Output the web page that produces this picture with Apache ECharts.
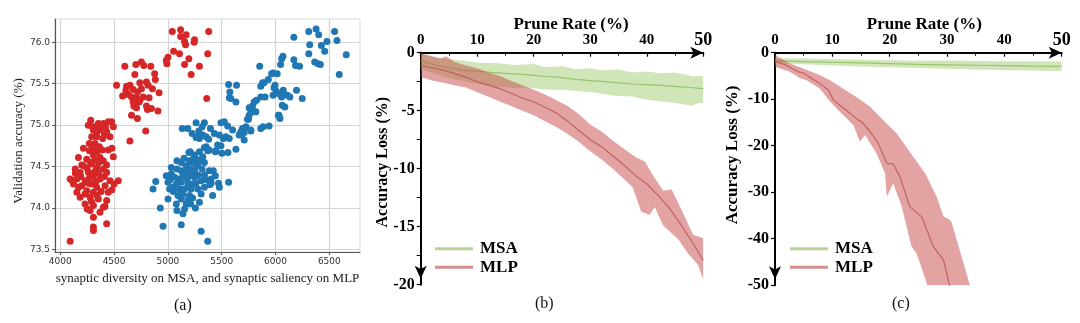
<!DOCTYPE html>
<html>
<head>
<meta charset="utf-8">
<script src="https://cdn.jsdelivr.net/npm/echarts@6/dist/echarts.min.js"></script>
<style>
  html, body { margin: 0; padding: 0; background: #fff; }
  #chart { width: 1080px; height: 323px; }
</style>
</head>
<body>
<div id="chart"></div>
<script>
// ---- (a) accuracy vs. synaptic diversity / saliency ----
const msaDiversity = [
  [5041,76.13],[5118,76.15],[5170,76.09],[5118,76.07],[5379,76.13],[5247,76.03],[5155,76.01],[5164,75.97],[5244,76.0],[5053,75.89],
  [5108,75.86],[5370,75.86],[5001,75.82],[4985,75.78],[4991,75.74],[5155,75.73],[5195,75.80],[5293,75.71],[5216,75.61],[5361,75.32],
  [4600,75.71],[4702,75.73],[4754,75.76],[4776,75.72],[4841,75.71],[4693,75.61],[4877,75.62],[4883,75.55],[4523,75.48],[4616,75.47],
  [4647,75.48],[4739,75.51],[4801,75.52],[4816,75.48],[4579,75.35],[4610,75.42],[4677,75.43],[4717,75.40],[4754,75.44],[4856,75.44],
  [4918,75.39],[4662,75.34],[4708,75.33],[4770,75.34],[4825,75.33],[4677,75.28],[4733,75.28],[4684,75.23],[4708,75.21],[4801,75.23],
  [4810,75.19],[4847,75.20],[4908,75.17],[4662,75.12],[4717,75.08],[4794,74.93],[4647,74.81],[4631,75.37],[4740,75.30],[4690,75.26],
  [4283,75.06],[4323,74.98],[4354,75.02],[4400,75.02],[4446,75.04],[4477,75.04],[4493,74.98],[4308,74.94],[4369,74.94],[4431,74.92],
  [4462,74.86],[4292,74.86],[4339,74.86],[4394,74.84],[4323,74.78],[4215,74.72],[4363,74.74],[4446,74.70],[4271,74.69],[4308,74.64],
  [4493,74.62],[4169,74.61],[4246,74.59],[4369,74.61],[4400,74.57],[4139,74.47],[4215,74.51],[4292,74.53],[4339,74.49],[4400,74.47],
  [4431,74.43],[4185,74.43],[4262,74.43],[4308,74.39],[4092,74.35],[4154,74.35],[4231,74.33],[4369,74.35],[4462,74.33],[4539,74.33],
  [4123,74.29],[4200,74.27],[4292,74.29],[4339,74.25],[4416,74.27],[4154,74.19],[4246,74.21],[4308,74.19],[4446,74.19],[4185,74.13],
  [4277,74.13],[4354,74.11],[4431,74.09],[4231,74.05],[4308,74.03],[4400,74.01],[4277,73.97],[4369,73.95],[4308,73.89],[4431,73.81],
  [4308,73.77],[4308,73.73],[4092,73.60],[4260,75.0],[4380,74.98],[4420,74.97],[4300,74.72],[4340,74.68],[4280,74.55],[4320,74.58],
  [4250,74.48],[4355,74.42],[4190,74.38],[4270,74.36],[4330,74.32],[4410,74.38],[4500,74.29],[4110,74.33],[4170,74.25],[4230,74.17],
  [4380,74.20],[4260,74.30],[4320,74.44],[4140,74.42],[4480,74.22],[4415,74.02],[4250,73.99],[4290,74.08],[4340,74.15],[4200,74.52],
  [4360,74.55],[4430,74.52],[4480,74.72],[4300,74.98],[4340,74.92],[4410,74.88],[4270,74.78],[4390,74.70]
];
const mlpSaliency = [
  [6170,76.06],[6309,76.13],[6377,76.16],[6401,76.09],[6549,76.13],[6318,75.97],[6426,75.96],[6478,76.01],[6571,76.02],[6457,75.89],
  [6657,75.85],[6309,75.86],[6364,75.76],[6395,75.74],[6417,75.73],[6592,75.61],[6069,75.83],[6057,75.80],[6047,75.73],[6170,75.79],
  [6186,75.72],[6223,75.71],[5853,75.71],[5977,75.63],[6016,75.62],[5933,75.55],[5893,75.51],[5863,75.47],[5995,75.48],[6007,75.41],
  [6032,75.38],[6063,75.36],[6109,75.36],[6195,75.42],[6248,75.32],[5903,75.34],[5863,75.34],[6063,75.24],[6087,75.22],[6032,75.12],
  [6041,75.08],[5564,75.49],[5638,75.48],[5576,75.40],[5585,75.32],[5632,75.28],[5801,75.28],[5755,75.21],[5770,75.18],[5801,75.16],
  [5739,75.07],[5693,74.96],[5678,74.92],[5662,74.88],[5884,74.98],[5863,74.96],[5770,74.94],[5632,74.71],[5493,75.03],[5524,75.04],
  [5555,74.99],[5601,74.94],[5339,75.03],[5395,74.96],[5432,74.90],[5478,74.88],[5515,74.84],[5539,74.86],[5462,74.76],[5493,74.75],
  [5339,74.73],[5370,74.69],[5447,74.69],[5502,74.66],[5293,74.90],[5293,74.84],[5986,75.45],[5964,75.62],[5977,75.36],[5571,75.33],
  [5780,75.20],[5817,75.16],[5749,75.07],[5725,74.98],[5709,74.91],[5687,74.88],[5709,74.82],[5262,75.03],[5318,74.98],[5287,74.93],
  [5324,74.88],[5355,74.86],[5379,74.83],[5355,74.74],[5385,74.70],[5133,74.96],[5185,74.96],[5225,74.90],[5262,74.85],[5207,74.68],
  [5570,74.84],[5558,74.67],[5441,74.68],[6133,75.34],[6057,75.34],[5940,74.99],[6072,75.42],[6026,75.12],[5880,75.51],[5786,75.23],
  [5823,75.30],[5755,75.12],[5771,74.93],
  [5195,74.67],[5247,74.64],[5293,74.68],[5324,74.62],[5262,74.59],[5309,74.59],[5225,74.55],[5278,74.53],[5339,74.55],[5084,74.57],
  [5124,74.55],[5170,74.51],[5032,74.49],[5084,74.47],[5124,74.45],[5201,74.47],[5247,74.45],[5318,74.47],[5385,74.45],[5422,74.45],
  [4985,74.39],[5032,74.41],[5062,74.37],[5140,74.39],[5201,74.39],[5247,74.37],[5309,74.33],[5355,74.34],[5401,74.35],[5441,74.39],
  [4887,74.32],[4862,74.23],[5001,74.31],[5078,74.29],[5124,74.31],[5186,74.29],[5232,74.29],[5016,74.23],[5047,74.25],[5108,74.23],
  [5155,74.23],[5216,74.23],[5278,74.23],[5339,74.25],[5401,74.30],[5478,74.25],[5564,74.31],[5140,74.17],[5201,74.15],[5093,74.15],
  [5309,74.17],[5416,74.15],[5001,74.11],[5124,74.11],[5186,74.10],[5078,74.05],[5170,74.05],[5256,74.00],[5155,73.99],[5293,74.07],
  [4930,74.00],[5084,73.97],[5140,73.93],[4955,73.78],[5124,73.80],[5309,73.72],[5370,73.60],
  [5150,74.60],[5230,74.42],[5180,74.35],[5260,74.30],[5100,74.35],[5050,74.20],[5230,74.12],[5160,74.44],[5280,74.40],[5120,74.20],
  [5210,74.05],[5260,74.50],[5020,74.34],[5340,74.40],[5200,74.57],[5240,74.60],[5470,74.30],[5390,74.28]
];
const synapticTicks = [4000, 4500, 5000, 5500, 6000, 6500];
const accuracyTicks = [73.5, 74.0, 74.5, 75.0, 75.5, 76.0];

// ---- (b) accuracy loss vs. prune rate ----
const msaMeanXB = [0, 2.5, 5, 7.5, 10, 12.5, 15, 17.5, 20, 22.5, 25, 27.5, 30, 32.5, 35, 37.5, 40, 42.5, 45, 47.5, 50];
const msaMeanB  = [-0.7, -1.05, -1.3, -1.5, -1.6, -1.7, -1.78, -1.85, -1.95, -2.05, -2.15, -2.3, -2.4, -2.5, -2.6, -2.7, -2.75, -2.82, -2.9, -3.0, -3.1];
const msaHighXB = [0, 2, 4.9, 7.8, 10.2, 13.7, 16.7, 20, 22, 25, 27.3, 30, 32, 35, 37.3, 40, 42.6, 45, 48, 50];
const msaHighB  = [-0.1, -0.35, -0.57, -0.69, -0.86, -0.91, -1.06, -0.97, -1.26, -1.14, -1.43, -1.34, -1.54, -1.43, -1.71, -1.63, -1.77, -1.71, -2.0, -2.0];
const msaLowXB  = [0, 5, 10, 13.7, 16.7, 20, 22.6, 25, 28.5, 30.8, 34.4, 37.3, 40, 42.6, 45, 48, 49.1, 50];
const msaLowB   = [-1.4, -2.2, -2.7, -2.91, -3.06, -3.06, -3.2, -3.2, -3.34, -3.43, -3.71, -3.77, -4.06, -4.2, -4.34, -4.57, -4.34, -4.34];

const mlpMeanXB = [0, 2, 4, 6, 8, 10, 12, 14, 16, 18, 20, 22, 24, 26, 28, 30, 32, 34, 36, 38, 40, 42, 44, 46, 48, 50];
const mlpMeanB  = [-1.1, -1.3, -1.5, -1.8, -2.1, -2.5, -2.8, -3.1, -3.5, -3.9, -4.25, -4.7, -5.2, -5.9, -6.7, -7.5, -8.1, -8.9, -9.7, -10.6, -11.3, -12.3, -13.4, -14.8, -16.3, -17.9];
const mlpHighXB = [0, 2, 3.5, 4.5, 6, 8, 10, 12, 14, 16, 18, 20, 22, 24, 26, 28, 30, 32, 34, 36, 38, 39.7, 41, 42.9, 44.4, 46.2, 48.2, 50];
const mlpHighB  = [-0.05, -0.3, -0.5, -0.3, -0.8, -1.1, -1.35, -1.7, -2.0, -2.45, -2.8, -3.2, -3.6, -4.1, -4.6, -5.3, -6.2, -6.8, -7.6, -8.3, -9.0, -9.4, -10.5, -11.9, -11.8, -13.6, -15.7, -16.0];
const mlpLowXB  = [0, 2, 4, 6, 8, 10, 12, 14, 16, 18, 20, 22, 24, 26, 28, 30, 32, 34, 36, 37.5, 39, 40.5, 41.4, 42.9, 45.6, 47.3, 49.1, 50];
const mlpLowB   = [-2.1, -2.4, -2.6, -2.8, -3.0, -3.4, -3.8, -4.2, -4.6, -5.0, -5.4, -5.9, -6.4, -7.0, -7.7, -8.5, -9.2, -10.0, -10.9, -11.6, -13.7, -14.0, -13.3, -14.9, -16.1, -17.3, -18.3, -19.6];

// ---- (c) accuracy loss vs. prune rate ----
const msaMeanXC = [0, 5, 10, 15, 20, 25, 30, 35, 40, 45, 50];
const msaMeanC  = [-1.75, -1.9, -2.05, -2.2, -2.35, -2.5, -2.6, -2.7, -2.8, -2.9, -2.95];
const msaHighXC = [0, 5, 10, 15, 20, 25, 30, 35, 40, 45, 50];
const msaHighC  = [-1.2, -1.25, -1.4, -1.5, -1.65, -1.75, -1.7, -1.8, -1.85, -1.85, -1.9];
const msaLowXC  = [0, 5, 10, 15, 20, 25, 30, 35, 40, 45, 50];
const msaLowC   = [-2.3, -2.5, -2.75, -2.95, -3.15, -3.3, -3.45, -3.6, -3.75, -3.85, -4.0];

const mlpMeanXC = [0, 2, 4, 5, 6, 7.8, 9.3, 10.2, 11.3, 13.1, 14.5, 15.1, 16.6, 18, 19.5, 20.6, 21.8, 23.5, 25.6, 27.6, 29.4, 30.5, 32];
const mlpMeanC  = [-1.9, -2.7, -4.1, -4.4, -5.2, -6.6, -8.0, -10.2, -11.3, -13.0, -14.5, -14.8, -17.0, -19.5, -23.8, -23.9, -26.7, -33.1, -35.3, -41.7, -44.6, -50.3, -58];
const mlpHighXC = [0, 2.6, 4.9, 7.8, 9.6, 12, 14.5, 16.6, 18.9, 21.2, 24.1, 26.2, 28.2, 29.4, 30.4, 30.8, 31.7, 33.4, 34.2];
const mlpHighC  = [-0.5, -2.3, -3.4, -4.8, -5.9, -7.8, -9.8, -11.6, -14.5, -17.3, -22.4, -26.0, -31.0, -35.3, -35.8, -36.5, -40.3, -47.5, -51];
const mlpLowXC  = [0, 2.6, 4.4, 5.5, 7.8, 9.6, 11.3, 13.7, 14.8, 15.7, 17.7, 19.2, 19.5, 20.6, 22.1, 23.8, 24.7, 25.9, 26.7, 28];
const mlpLowC   = [-3.0, -4.1, -5.5, -5.9, -7.7, -10.5, -12.7, -15.6, -19.1, -17.7, -21.6, -26.0, -31.0, -28.1, -33.1, -41.7, -43.2, -47.5, -50.5, -56];

const pruneTicksMax = 50;

// ---- styling ----
const SERIF = '"Liberation Serif", "DejaVu Serif", serif';
const SANS = '"DejaVu Sans", sans-serif';
const GREEN_BAND = 'rgba(150, 200, 100, 0.45)';
const GREEN_LINE = 'rgba(140, 190, 95, 0.85)';
const GREEN_KEY = '#b7d494';
const RED_BAND = 'rgba(200, 72, 72, 0.5)';
const RED_LINE = 'rgba(190, 90, 90, 0.9)';
const RED_KEY = '#d58e8e';

const zip = (xs, ys) => xs.map((x, i) => [x, ys[i]]);

// Shaded spread between an upper and a lower edge, projected through the grid's axes.
function band(idx, hx, hy, lx, ly, fill, z) {
  return {
    type: 'custom',
    xAxisIndex: idx, yAxisIndex: idx,
    silent: true, z: z, clip: true,
    data: [[hx[0], hy[0]]],
    renderItem: function (params, api) {
      const pts = hx.map((x, i) => api.coord([x, hy[i]]));
      const low = lx.map((x, i) => api.coord([x, ly[i]])).reverse();
      const cs = params.coordSys;
      return {
        type: 'polygon',
        shape: { points: pts.concat(low) },
        style: { fill: fill },
        clipPath: { type: 'rect', shape: { x: cs.x, y: cs.y, width: cs.width, height: cs.height } }
      };
    }
  };
}

function meanLine(idx, name, xs, ys, color, z) {
  return {
    type: 'line', name: name, xAxisIndex: idx, yAxisIndex: idx,
    data: zip(xs, ys), showSymbol: false, symbol: 'none', clip: true, z: z,
    lineStyle: { color: color, width: 1.2 }, itemStyle: { color: color }
  };
}

function pruneXAxis(idx, namePad) {
  return {
    gridIndex: idx, type: 'value', position: 'top', min: 0, max: pruneTicksMax, interval: 10,
    axisLine: { show: true, onZero: false, lineStyle: { color: '#000', width: 2 },
      symbol: ['none', 'arrow'], symbolSize: [9, 13] },
    axisTick: { show: true, inside: true, length: 4, lineStyle: { color: '#000', width: 1.2 } },
    minorTick: { show: true, splitNumber: 2, length: 3, lineStyle: { color: '#000', width: 1 } },
    splitLine: { show: false },
    axisLabel: { margin: 5, color: '#000', fontFamily: SERIF, fontWeight: 'bold', fontSize: 15,
      showMinLabel: true, showMaxLabel: true,
      formatter: v => v === pruneTicksMax ? '{big|' + v + '}' : String(v),
      rich: { big: { fontFamily: SERIF, fontWeight: 'bold', fontSize: 18, lineHeight: 15, color: '#000' } } },
    name: 'Prune Rate (%)', nameLocation: 'middle', nameGap: 20, nameMoveOverlap: false,
    nameTextStyle: { color: '#000', fontFamily: SERIF, fontWeight: 'bold', fontSize: 17, padding: [0, 0, 0, namePad] }
  };
}

function lossYAxis(idx, min, interval, minorSplit, nameGap, namePad, nameSize) {
  return {
    gridIndex: idx, type: 'value', min: min, max: 0, interval: interval,
    axisLine: { show: true, onZero: false, lineStyle: { color: '#000', width: 2 },
      symbol: ['arrow', 'none'], symbolSize: [9, 13], symbolOffset: [6, 0] },
    axisTick: { show: true, length: 4, lineStyle: { color: '#000', width: 1.2 } },
    minorTick: { show: minorSplit > 1, splitNumber: minorSplit, length: 4, lineStyle: { color: '#000', width: 1 } },
    splitLine: { show: false },
    axisLabel: { margin: 6, color: '#000', fontFamily: SERIF, fontWeight: 'bold', fontSize: 16,
      showMinLabel: true, showMaxLabel: true },
    name: 'Accuracy Loss (%)', nameLocation: 'middle', nameRotate: 90, nameGap: nameGap, nameMoveOverlap: false,
    nameTextStyle: { color: '#000', fontFamily: SERIF, fontWeight: 'bold', fontSize: nameSize, padding: [0, 0, 0, namePad] }
  };
}

function keyLegend(left, top) {
  return {
    orient: 'vertical', left: left, top: top, itemGap: 0, itemWidth: 38, itemHeight: 3,
    icon: 'rect', selectedMode: false,
    textStyle: { fontFamily: SERIF, fontWeight: 'bold', fontSize: 17, color: '#000', lineHeight: 18.5, padding: [0, 0, 0, 2] },
    data: [
      { name: 'MSA', itemStyle: { color: GREEN_KEY } },
      { name: 'MLP', itemStyle: { color: RED_KEY } }
    ]
  };
}

const chart = echarts.init(document.getElementById('chart'), null, { renderer: 'canvas' });

const option = {
  animation: false,
  backgroundColor: '#fff',
  grid: [
    { left: 55, top: 19, width: 305, height: 233, show: true, borderColor: '#d9d9d9', borderWidth: 1, backgroundColor: 'transparent' },
    { left: 420.7, top: 52.7, width: 282.6, height: 232 },
    { left: 775, top: 52.7, width: 286.7, height: 232.5 }
  ],
  xAxis: [
    {
      gridIndex: 0, type: 'value', min: 3951, max: 6785,
      axisLine: { show: true, onZero: false, lineStyle: { color: '#555', width: 1.2 } },
      axisTick: { show: true, length: 3, customValues: synapticTicks, lineStyle: { color: '#555' } },
      axisLabel: { customValues: synapticTicks, margin: 5, color: '#333', fontFamily: SANS, fontSize: 9,
        formatter: v => String(v) },
      splitLine: { show: true, lineStyle: { color: '#d4d4d4', width: 1.2 } },
      name: 'synaptic diversity on MSA, and synaptic saliency on MLP', nameLocation: 'middle', nameGap: 20,
      nameTextStyle: { color: '#222', fontFamily: SERIF, fontSize: 13 }
    },
    pruneXAxis(1, 18),
    pruneXAxis(2, 12)
  ],
  yAxis: [
    {
      gridIndex: 0, type: 'value', min: 73.47, max: 76.28,
      axisLine: { show: true, onZero: false, lineStyle: { color: '#555', width: 1.2 } },
      axisTick: { show: true, length: 3, customValues: accuracyTicks, lineStyle: { color: '#555' } },
      axisLabel: { customValues: accuracyTicks, margin: 5, color: '#333', fontFamily: SANS, fontSize: 9,
        formatter: v => v.toFixed(1) },
      splitLine: { show: true, lineStyle: { color: '#d4d4d4', width: 1.2 } },
      name: 'Validation accuracy (%)', nameLocation: 'middle', nameRotate: 90, nameGap: 30,
      nameTextStyle: { color: '#222', fontFamily: SERIF, fontSize: 13, padding: [0, 11, 0, 0] }
    },
    lossYAxis(1, -20, 5, 2, 30, 13, 16),
    lossYAxis(2, -50, 10, 1, 34, 28, 17)
  ],
  legend: [keyLegend(430, 234.5), keyLegend(785, 234.5)],
  graphic: [
    { type: 'text', left: 174, top: 298, style: { text: '(a)', fontFamily: SERIF, fontSize: 16, fill: '#111' } },
    { type: 'text', left: 535, top: 296, style: { text: '(b)', fontFamily: SERIF, fontSize: 16, fill: '#111' } },
    { type: 'text', left: 892, top: 296, style: { text: '(c)', fontFamily: SERIF, fontSize: 16, fill: '#111' } }
  ],
  series: [
    { type: 'scatter', name: 'diversity (MSA)', xAxisIndex: 0, yAxisIndex: 0, data: msaDiversity,
      symbolSize: 7, itemStyle: { color: '#d62728', opacity: 1 }, z: 3 },
    { type: 'scatter', name: 'saliency (MLP)', xAxisIndex: 0, yAxisIndex: 0, data: mlpSaliency,
      symbolSize: 7, itemStyle: { color: '#1f77b4', opacity: 1 }, z: 3 },

    band(1, msaHighXB, msaHighB, msaLowXB, msaLowB, GREEN_BAND, 2),
    meanLine(1, 'MSA', msaMeanXB, msaMeanB, GREEN_LINE, 3),
    band(1, mlpHighXB, mlpHighB, mlpLowXB, mlpLowB, RED_BAND, 4),
    meanLine(1, 'MLP', mlpMeanXB, mlpMeanB, RED_LINE, 5),

    band(2, msaHighXC, msaHighC, msaLowXC, msaLowC, GREEN_BAND, 2),
    meanLine(2, 'MSA', msaMeanXC, msaMeanC, GREEN_LINE, 3),
    band(2, mlpHighXC, mlpHighC, mlpLowXC, mlpLowC, RED_BAND, 4),
    meanLine(2, 'MLP', mlpMeanXC, mlpMeanC, RED_LINE, 5)
  ]
};

chart.setOption(option);
</script>
</body>
</html>
